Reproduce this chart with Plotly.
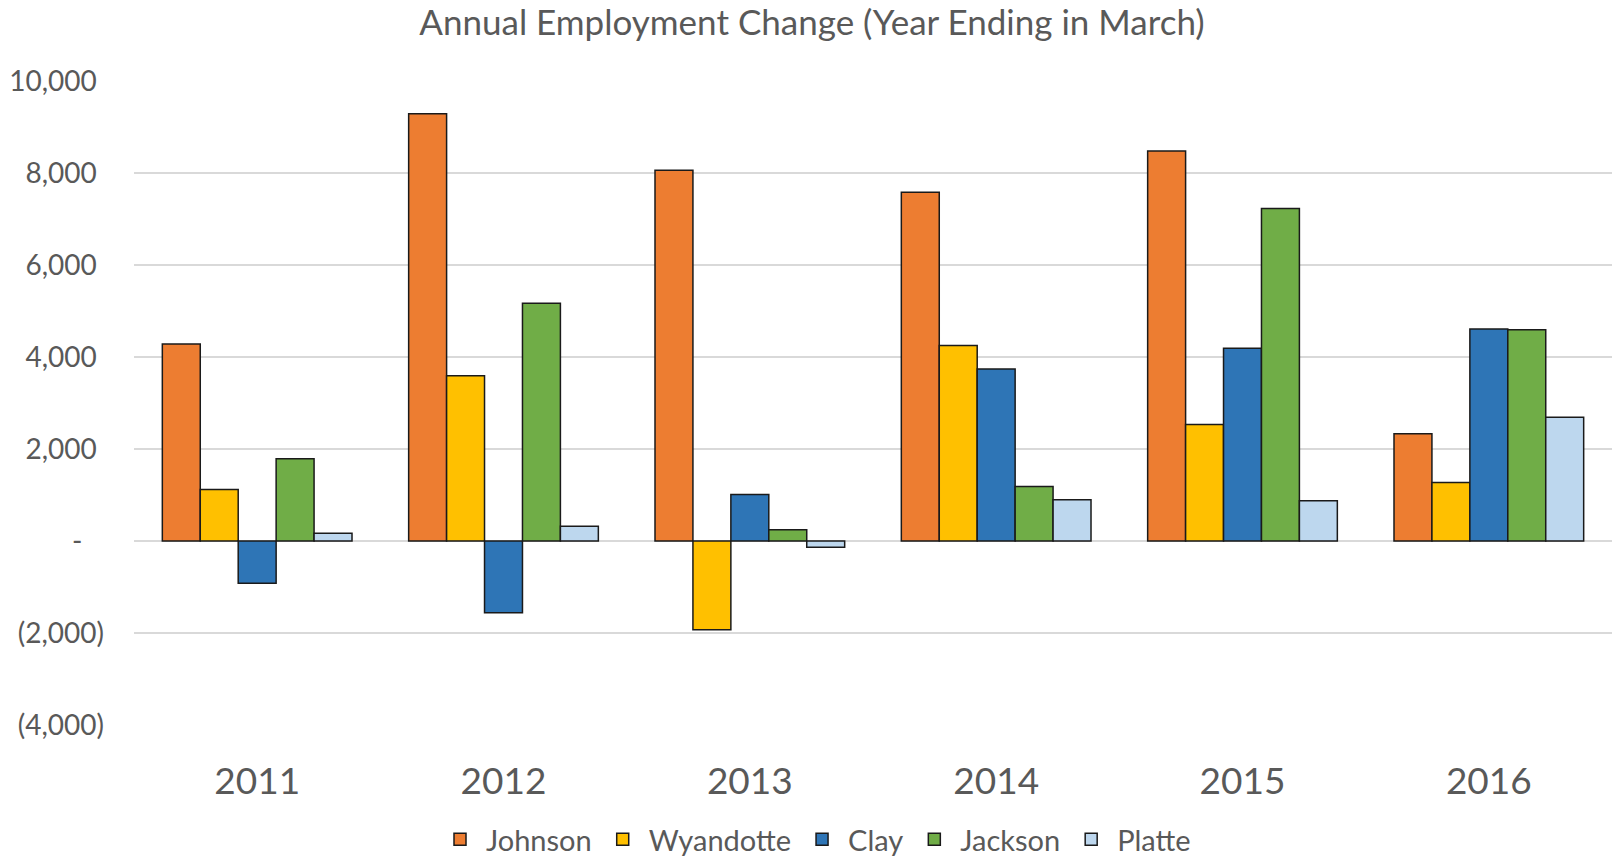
import plotly.graph_objects as go

years = ["2011", "2012", "2013", "2014", "2015", "2016"]
johnson = [4280, 9290, 8060, 7580, 8480, 2330]
wyandotte = [1120, 3590, -1930, 4250, 2530, 1270]
clay = [-920, -1560, 1010, 3740, 4190, 4610]
jackson = [1790, 5170, 245, 1185, 7230, 4590]
platte = [168, 320, -137, 895, 875, 2690]

series_names = ["Johnson", "Wyandotte", "Clay", "Jackson", "Platte"]
series_values = [johnson, wyandotte, clay, jackson, platte]
series_colors = ["#ED7D31", "#FFC000", "#2E75B6", "#70AD47", "#BDD7EE"]

NB = "\u00a0"
y_tickvals = [-4000, -2000, 0, 2000, 4000, 6000, 8000, 10000]
y_ticktext = ["(4,000)", "(2,000)", "-" + NB * 3, "2,000" + NB, "4,000" + NB,
              "6,000" + NB, "8,000" + NB, "10,000" + NB]

FONT = "Lato"
W, H = 1612, 865

fig = go.Figure()
for name, vals, col in zip(series_names, series_values, series_colors):
    fig.add_trace(go.Bar(
        x=years, y=vals, name=name,
        marker=dict(color=col, line=dict(color="#1a1a1a", width=1.5)),
    ))

fig.update_layout(
    width=W, height=H,
    barmode="group", bargap=0.23, bargroupgap=0,
    plot_bgcolor="white", paper_bgcolor="white",
    margin=dict(l=134, r=0, t=81, b=H - 725),
    font=dict(family=FONT, color="#595959"),
    title=dict(text="Annual Employment Change (Year Ending in March)",
               x=812 / W, xanchor="center", xref="container",
               y=1 - 23 / H, yanchor="middle", yref="container",
               font=dict(family=FONT, size=35, color="#595959")),
    legend=dict(orientation="h", xref="container", x=815 / W, xanchor="center",
                yref="container", y=0, yanchor="bottom",
                font=dict(family=FONT, size=29, color="#595959"),
                itemwidth=42, itemclick=False),
    showlegend=True,
)
fig.update_yaxes(range=[-4000, 10000], tickvals=y_tickvals, ticktext=y_ticktext,
                 showgrid=True, gridcolor="#D9D9D9", gridwidth=2,
                 zeroline=True, zerolinecolor="#D9D9D9", zerolinewidth=2,
                 showline=False, ticks="", ticklabelstandoff=29,
                 tickfont=dict(family=FONT, size=28, color="#595959"))
fig.update_xaxes(showgrid=False, showline=False, ticks="", ticklabelstandoff=31,
                 tickfont=dict(family=FONT, size=37, color="#595959"))

fig.write_html("out.html", config={"displayModeBar": False},
               post_script="document.body.style.margin='0';document.body.style.overflow='hidden';")
